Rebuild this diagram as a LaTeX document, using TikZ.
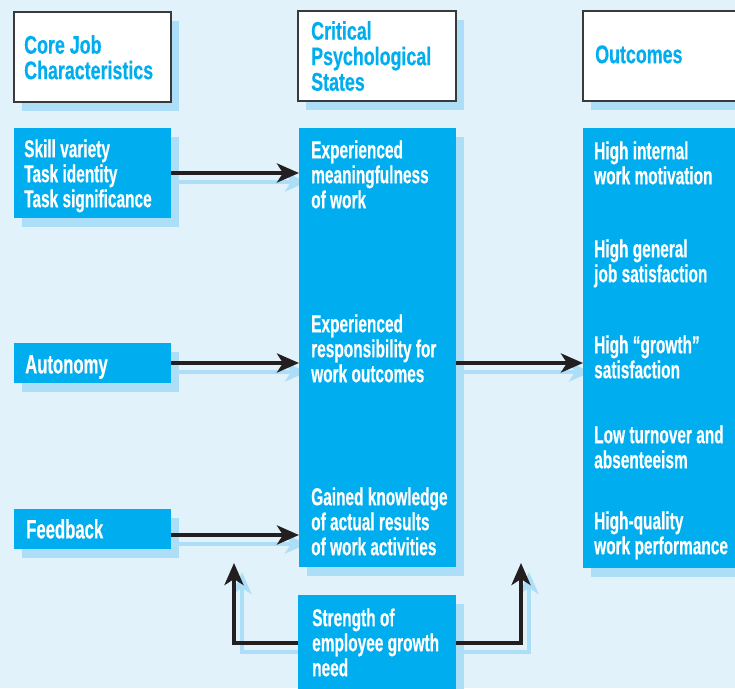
\documentclass[tikz,border=0pt]{standalone}
\usepackage{fontspec}
\newfontfamily\condfont{Liberation Sans Bold}[FakeStretch=0.63, FakeBold=0.4]
\newfontfamily\headcondfont{Liberation Sans Bold}[FakeStretch=0.70, FakeBold=0.4]
\usetikzlibrary{arrows.meta,shadows}
\definecolor{bgblue}{HTML}{E1F2FA}
\definecolor{cyanfill}{HTML}{00AEEF}
\definecolor{shadowblue}{HTML}{ACDFF7}
\definecolor{edgegray}{HTML}{3A3A3A}
\definecolor{linkblack}{HTML}{231F20}
\newcommand\headfont{\headcondfont\fontsize{25.5}{25.5}\selectfont}
\newcommand\cardfont{\condfont\fontsize{24.5}{25}\selectfont}
\newcommand\labelfont{\condfont\fontsize{26.5}{25}\selectfont}
\pgfdeclarelayer{bottom}
\pgfdeclarelayer{background}
\pgfsetlayers{bottom,background,main}

% all connectors, drawn with style #1 and shifted by (#2,#3)
\newcommand\drawlinks[3]{%
  \draw[#1] ([shift={(#2,#3)}]skill.east) -- ([shift={(#2,#3)}]skill.east -| col2.west);
  \draw[#1] ([shift={(#2,#3)}]autonomy.east) -- ([shift={(#2,#3)}]autonomy.east -| col2.west);
  \draw[#1] ([shift={(#2,#3)}]fbstart) -- ([shift={(#2,#3)}]fbstart -| col2.west);
  \draw[#1] ([shift={(#2,#3)}]midstart) -- ([shift={(#2,#3)}]midstart -| col3.west);
  \draw[#1] ([shift={(#2,#3)}]growthL) -| ([shift={(#2,#3)}]tipL);
  \draw[#1] ([shift={(#2,#3)}]growthR) -| ([shift={(#2,#3)}]tipR);
}

\begin{document}
\begin{tikzpicture}[x=1pt,y=-1pt,
  boxshadow/.style={drop shadow={shadow xshift=8pt, shadow yshift=-9pt, fill=shadowblue, opacity=1}},
  header/.style={draw=edgegray, line width=1.3pt, fill=white, anchor=north west,
    inner sep=0, outer sep=0, boxshadow},
  card/.style={fill=cyanfill, anchor=north west, inner sep=0, outer sep=0, boxshadow},
  headtext/.style={anchor=north west, inner sep=0, align=left, text=cyanfill, font=\headfont},
  cardtext/.style={anchor=north west, inner sep=0, align=left, text=white, font=\cardfont},
  labeltext/.style={anchor=north west, inner sep=0, align=left, text=white, font=\labelfont},
  link/.style={line width=4pt, draw=linkblack, line join=miter,
    -{Stealth[length=22pt,width=19pt,inset=6pt]}},
  linkshadow/.style={link, draw=shadowblue}]

\useasboundingbox (0,0) rectangle (735,688);
\begin{pgfonlayer}{bottom}
  \fill[bgblue] (0,0) rectangle (735,688);
\end{pgfonlayer}

% column headers
\node[header, minimum width=157pt, minimum height=90pt] (h1) at (14,12) {};
\node[header, minimum width=158pt, minimum height=90pt] (h2) at (298,11) {};
\node[header, minimum width=170pt, minimum height=90pt] (h3) at (583,11) {};

% boxes
\node[card, minimum width=157pt, minimum height=90pt] (skill) at (14,128) {};
\node[card, minimum width=157pt, minimum height=40pt] (autonomy) at (14,343) {};
\node[card, minimum width=157pt, minimum height=40pt] (feedback) at (14,509) {};
\node[card, minimum width=157pt, minimum height=439pt] (col2) at (299,128) {};
\node[card, minimum width=170pt, minimum height=440pt] (col3) at (583,128) {};
\node[card, minimum width=158pt, minimum height=100pt] (strength) at (298,595) {};

% connector end points
\coordinate (fbstart) at ([yshift=-6pt]feedback.east);
\coordinate (midstart) at (col2.east |- autonomy.east);
\coordinate (growthL) at ([yshift=-48pt]strength.north west);
\coordinate (growthR) at ([yshift=-48pt]strength.north east);
\coordinate (tipL) at (234,563);
\coordinate (tipR) at (521,563);

% header texts
\node[headtext] (t-core) at (24,35) {\rule{0pt}{18pt}Core Job\\Characteristics};
\node[headtext] (t-crit) at (311,21) {\rule{0pt}{18pt}Critical\\Psychological\\States};
\node[headtext] (t-out) at (595,45) {\rule{0pt}{18pt}Outcomes};

% box texts
\node[cardtext] (t-skill) at (24,139) {\rule{0pt}{18pt}Skill variety\\Task identity\\Task significance};
\node[labeltext] (t-auto) at (25,355) {\rule{0pt}{18pt}Autonomy};
\node[labeltext] (t-feed) at (26,519) {\rule{0pt}{18pt}Feedback};

\node[cardtext] (t-mean) at (311,140) {\rule{0pt}{18pt}Experienced\\meaningfulness\\of work};
\node[cardtext] (t-resp) at (311,314) {\rule{0pt}{18pt}Experienced\\responsibility for\\work outcomes};
\node[cardtext] (t-know) at (311,487) {\rule{0pt}{18pt}Gained knowledge\\of actual results\\of work activities};

\node[cardtext] (t-motiv) at (594,141) {\rule{0pt}{18pt}High internal\\work motivation};
\node[cardtext] (t-gen) at (594,239) {\rule{0pt}{18pt}High general\\job satisfaction};
\node[cardtext] (t-grow) at (594,335) {\rule{0pt}{18pt}High “growth”\\satisfaction};
\node[cardtext] (t-turn) at (594,425) {\rule{0pt}{18pt}Low turnover and\\absenteeism};
\node[cardtext] (t-qual) at (594,511) {\rule{0pt}{18pt}High-quality\\work performance};

\node[cardtext] (t-need) at (312,608) {\rule{0pt}{18pt}Strength of\\employee growth\\need};

% connectors and their light shadows
\begin{pgfonlayer}{background}
  \drawlinks{linkshadow}{8}{9}
\end{pgfonlayer}
\drawlinks{link}{0}{0}

\end{tikzpicture}
\end{document}
